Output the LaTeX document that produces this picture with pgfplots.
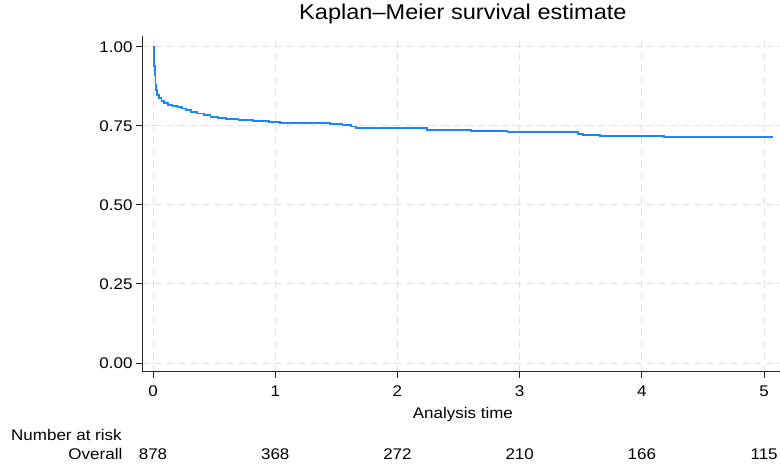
\documentclass[border=0pt]{standalone}
\usepackage{fontspec}
\setmainfont{Liberation Sans}[FakeStretch=1.1]
\usepackage{pgfplots}
\pgfplotsset{compat=1.18}
\definecolor{kmblue}{HTML}{1A85FF}
\newcommand{\lab}{\fontsize{15.5}{18}\selectfont}
\begin{document}
\begin{tikzpicture}[x=1bp,y=1bp]
\useasboundingbox (0,0) rectangle (780,466);
\begin{axis}[
  at={(142bp,94bp)}, anchor=south west,
  scale only axis, width=638bp, height=336bp,
  xmin=-0.09, xmax=5.13, ymin=-0.0285, ymax=1.034,
  axis lines=left, axis line style={-, line width=1bp, black!85},
  tick align=outside, major tick length=6bp,
  tick style={black!85, line width=0.9bp},
  xtick={0,1,2,3,4,5},
  ytick={0,0.25,0.5,0.75,1},
  /pgf/number format/assume math mode=true,
  yticklabel style={/pgf/number format/fixed, /pgf/number format/fixed zerofill, /pgf/number format/precision=2, font=\lab},
  xticklabel style={font=\lab, anchor=base, yshift=-18.5bp},
  grid=major,
  major grid style={dash pattern=on 7bp off 5bp, black!12, line width=0.9bp},
  clip=false,
  title={\fontsize{21.5}{24}\selectfont Kaplan--Meier survival estimate},
  title style={at={(axis description cs:0.503,1)}, anchor=base, yshift=11bp},
  xlabel={Analysis time},
  xlabel style={font=\lab, at={(axis description cs:0.503,0)}, anchor=base, yshift=-46.5bp},
]
\addplot[const plot, kmblue, line width=1.8bp] coordinates {
(0,1.000) (0.005,0.970) (0.010,0.940) (0.015,0.910) (0.020,0.880) (0.025,0.862)
(0.035,0.848) (0.050,0.838) (0.070,0.829) (0.090,0.823) (0.120,0.817) (0.160,0.812)
(0.200,0.809) (0.240,0.805) (0.270,0.799) (0.310,0.794) (0.360,0.789) (0.420,0.783)
(0.470,0.778) (0.530,0.775) (0.600,0.771) (0.700,0.768) (0.820,0.764) (0.950,0.762)
(1.040,0.759) (1.450,0.756) (1.550,0.752) (1.620,0.748) (1.660,0.742) (2.240,0.737)
(2.600,0.733) (2.900,0.730) (3.480,0.725) (3.520,0.722) (3.660,0.719) (4.180,0.714)
(5.070,0.714)
};
\addplot[draw=none, mark=none, nodes near coords, point meta=explicit symbolic,
  every node near coord/.append style={anchor=base, font=\lab, inner sep=0pt}]
  coordinates {
(0,-0.305)[878] (1,-0.305)[368] (2,-0.305)[272] (3,-0.305)[210] (4,-0.305)[166] (5,-0.305)[115]
};
\end{axis}
\node[anchor=base west, inner sep=0pt, font=\lab] at (11,25.5) {Number at risk};
\node[anchor=base east, inner sep=0pt, font=\lab] at (122.5,6.5) {Overall};
\end{tikzpicture}
\end{document}
